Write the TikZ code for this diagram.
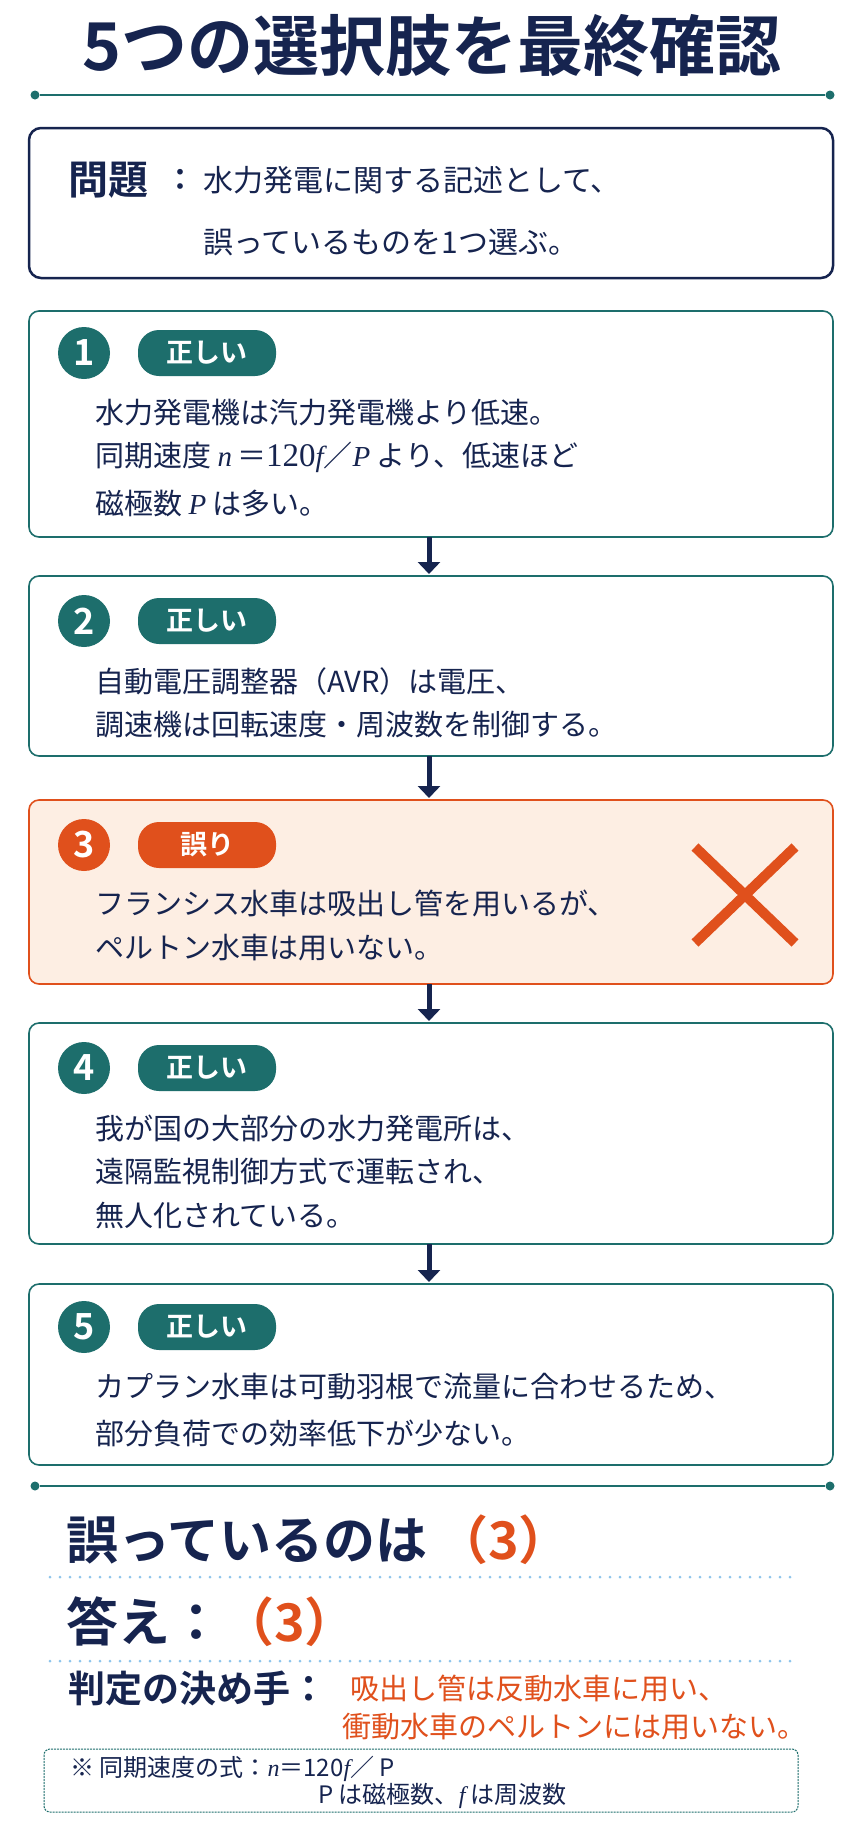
\documentclass[tikz,border=0pt]{standalone}
\usepackage{fontspec}
\setmainfont{Noto Sans CJK JP}[BoldFont={* Bold}]
\newfontfamily\jpb{Noto Sans CJK JP Bold}
\newfontfamily\srf{Liberation Serif}
\usetikzlibrary{arrows.meta}
\definecolor{navy}{HTML}{16244F}
\definecolor{teal}{HTML}{1D6E6C}
\definecolor{org}{HTML}{E0501C}
\definecolor{pale}{HTML}{FDEEE3}
\definecolor{dotb}{HTML}{8CC4EC}
\newcommand{\mvar}[1]{{\srf\itshape #1}}
\begin{document}
\begin{tikzpicture}[x=1pt,y=-1pt,
  box/.style={draw=teal,line width=1.6pt,rounded corners=10pt},
  num/.style={circle,fill=teal,text=white,minimum size=52pt,inner sep=0,font=\jpb\fontsize{36}{36}\selectfont},
  badge/.style={rounded corners=21pt,fill=teal,text=white,minimum width=138pt,minimum height=46pt,inner sep=0,font=\jpb\fontsize{27}{27}\selectfont},
  body/.style={anchor=west,text=navy,font=\fontsize{29}{29}\selectfont,inner sep=0},
  arr/.style={-{Triangle[width=22pt,length=12pt]},line width=5pt,draw=navy},
  dv/.style={draw=teal,line width=2pt},
  dt/.style={circle,fill=teal,inner sep=0,minimum size=9pt},
  dotl/.style={draw=dotb,line width=3pt,line cap=round,dash pattern=on 0pt off 10pt}]
\useasboundingbox[fill=white] (0,0) rectangle (864,1821);
\node[text=navy,font=\jpb\fontsize{66}{66}\selectfont] (title) at (432,46) {5つの選択肢を最終確認};
\node[dt] (d1) at (35,95) {}; \node[dt] (d2) at (830,95) {};
\draw[dv] (d1) -- (d2);
% problem
\draw[draw=navy,line width=2.5pt,rounded corners=12pt] (29,128) rectangle (833,278);
\node[anchor=west,text=navy,font=\jpb\fontsize{40}{40}\selectfont,inner sep=0] (q) at (68,180) {問題};
\node[anchor=center,text=navy,font=\jpb\fontsize{30}{30}\selectfont,inner sep=0] (qc) at (180,180) {：};
\node[anchor=west,text=navy,font=\fontsize{30}{30}\selectfont,inner sep=0] (qt1) at (203,180) {水力発電に関する記述として、};
\node[anchor=west,text=navy,font=\fontsize{30}{30}\selectfont,inner sep=0] (qt2) at (203,242) {誤っているものを1つ選ぶ。};
% boxes
\draw[box,fill=white] (29,311) rectangle (833,537);
\node[num] (n1) at (84,353) {1};
\node[badge] (b1) at (207,353) {正しい};
\node[body] (t1a) at (95,413) {水力発電機は汽力発電機より低速。};
\node[body] (t1b) at (95,457) {同期速度 \mvar{n}\,＝{\srf\fontsize{33}{33}\selectfont 120}\mvar{f}／\mvar{P} より、低速ほど};
\node[body] (t1c) at (95,503) {磁極数 \mvar{P} は多い。};
\draw[box,fill=white] (29,576) rectangle (833,756);
\node[num] (n2) at (84,621) {2};
\node[badge] (b2) at (207,621) {正しい};
\node[body] (t2a) at (95,681) {自動電圧調整器（AVR）は電圧、};
\node[body] (t2b) at (95,725) {調速機は回転速度・周波数を制御する。};
\draw[box,draw=org,fill=pale] (29,800) rectangle (833,984);
\node[num,fill=org] (n3) at (84,845) {3};
\node[badge,fill=org] (b3) at (207,845) {誤り};
\node[body] (t3a) at (95,903) {フランシス水車は吸出し管を用いるが、};
\node[body] (t3b) at (95,948) {ペルトン水車は用いない。};
\draw[org,line width=10pt] (695,847) -- (795,943) (795,847) -- (695,943);
\draw[box,fill=white] (29,1023) rectangle (833,1244);
\node[num] (n4) at (84,1068) {4};
\node[badge] (b4) at (207,1068) {正しい};
\node[body] (t4a) at (95,1128) {我が国の大部分の水力発電所は、};
\node[body] (t4b) at (95,1171) {遠隔監視制御方式で運転され、};
\node[body] (t4c) at (95,1215) {無人化されている。};
\draw[box,fill=white] (29,1284) rectangle (833,1465);
\node[num] (n5) at (84,1327) {5};
\node[badge] (b5) at (207,1327) {正しい};
\node[body] (t5a) at (95,1387) {カプラン水車は可動羽根で流量に合わせるため、};
\node[body] (t5b) at (95,1433) {部分負荷での効率低下が少ない。};
\coordinate (a1) at (429,537); \coordinate (a2) at (429,574);
\coordinate (a3) at (429,756); \coordinate (a4) at (429,798);
\coordinate (a5) at (429,984); \coordinate (a6) at (429,1021);
\coordinate (a7) at (429,1244); \coordinate (a8) at (429,1282);
\draw[arr] (a1) -- (a2); \draw[arr] (a3) -- (a4); \draw[arr] (a5) -- (a6); \draw[arr] (a7) -- (a8);
% bottom
\node[dt] (d3) at (35,1486) {}; \node[dt] (d4) at (830,1486) {};
\draw[dv] (d3) -- (d4);
\node[anchor=west,text=navy,font=\jpb\fontsize{52}{52}\selectfont,inner sep=0] (ans1) at (66,1540) {誤っているのは\,\textcolor{org}{（3）}};
\coordinate (l1) at (50,1577); \coordinate (l2) at (800,1577);
\draw[dotl] (l1) -- (l2);
\node[anchor=west,text=navy,font=\jpb\fontsize{52}{52}\selectfont,inner sep=0] (ans2) at (66,1622) {答え：\textcolor{org}{（3）}};
\coordinate (l3) at (50,1661); \coordinate (l4) at (800,1661);
\draw[dotl] (l3) -- (l4);
\node[anchor=west,text=navy,font=\jpb\fontsize{37}{37}\selectfont,inner sep=0] (j) at (68,1688) {判定の決め手：};
\node[anchor=west,text=org,font=\fontsize{29}{29}\selectfont,inner sep=0] (j1) at (350,1688) {吸出し管は反動水車に用い、};
\node[anchor=west,text=org,font=\fontsize{29}{29}\selectfont,inner sep=0] (j2) at (342,1727) {衝動水車のペルトンには用いない。};
\draw[draw=teal,line width=1pt,dash pattern=on 2pt off 1pt,rounded corners=6pt] (44,1749) rectangle (798,1812);
\node[anchor=west,text=navy,font=\fontsize{24}{24}\selectfont,inner sep=0] (f1) at (70,1769) {※ 同期速度の式：\mvar{n}＝120\mvar{f}／ P};
\node[anchor=west,text=navy,font=\fontsize{24}{24}\selectfont,inner sep=0] (f2) at (318,1796) {P は磁極数、\mvar{f} は周波数};
\end{tikzpicture}
\end{document}
